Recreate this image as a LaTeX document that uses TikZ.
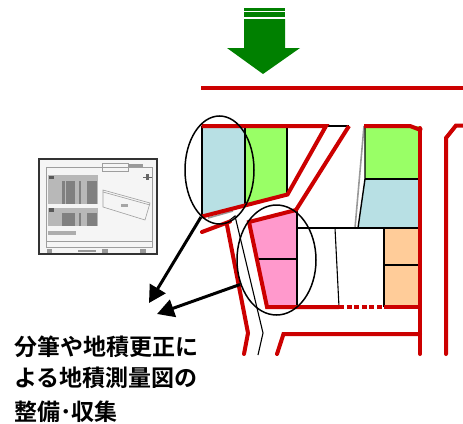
\documentclass[tikz,border=0pt]{standalone}
\usepackage{fontspec}
\newfontfamily\jpfont{Noto Sans CJK JP}[BoldFont={Noto Sans CJK JP Bold}]
\usetikzlibrary{arrows.meta,shapes.geometric}
\definecolor{rd}{RGB}{204,0,0}
\definecolor{bluef}{RGB}{184,224,228}
\definecolor{greenf}{RGB}{153,255,102}
\definecolor{pinkf}{RGB}{255,153,204}
\definecolor{orangef}{RGB}{255,204,153}
\definecolor{gr}{RGB}{0,128,0}
\tikzset{
 redline/.style={draw=rd,line width=4pt,line join=miter},
 blk/.style={draw=black,line width=1.4pt},
 thin blk/.style={draw=black,line width=1.1pt},
 zone/.style={draw=black,line width=1.5pt,ellipse,inner sep=0pt,fill=none},
 bigarrow/.style={draw=black,line width=3pt,-{Triangle[length=17pt,width=18pt]}},
 caption/.style={anchor=west,inner sep=0pt,font=\jpfont\fontsize{23}{26}\selectfont\bfseries},
 tbl/.style={fill=black!28,draw=none},
 stripe/.style={fill=black!50,draw=none},
 faint/.style={draw=black!38,line width=.6pt}
}
\begin{document}
\begin{tikzpicture}[x=1pt,y=-1pt]
\useasboundingbox (0,0) rectangle (463,423);
% green arrow
\fill[gr] (244,8) rectangle (285,11);
\fill[gr] (244,12) rectangle (285,17);
\fill[gr] (244,19) -- (285,19) -- (285,48) -- (300,48) -- (263,74) -- (227,48) -- (244,48) -- cycle;
% top road
\draw[redline] (201,87.7) -- (463,87.7);
% fills
\fill[bluef] (202,126) -- (245,126) -- (245,205) -- (202,216) -- cycle;
\fill[greenf] (245,126) -- (287,126) -- (287,194) -- (245,205) -- cycle;
\fill[greenf] (365,126) -- (420,126) -- (420,179) -- (365,179) -- cycle;
\fill[bluef] (365,179) -- (420,179) -- (420,228) -- (358,228) -- cycle;
\fill[pinkf] (248,222) -- (297,211) -- (297,307) -- (267,307) -- cycle;
\fill[orangef] (384,228) rectangle (420,307);
% gray lines
\draw[draw=black!40,line width=1.6pt] (364,126) -- (355,228);
\draw[draw=black!40,line width=1.6pt] (208,218) -- (233,211);
% black parcel lines
\draw[blk] (202,126) -- (202,216);
\draw[blk] (245,126) -- (245,205);
\draw[blk] (287,126) -- (287,194);
\draw[blk] (326,126) -- (349,126);
\draw[blk] (365,126) -- (365,179) -- (358,228);
\draw[blk] (365,179) -- (420,179);
\draw[blk] (297,211) -- (297,307);
\draw[blk] (258,259) -- (297,259);
\draw[blk] (297,228) -- (421,228);
\draw[thin blk] (335,228) -- (339,307);
\draw[blk] (384,228) -- (384,307);
\draw[blk] (384,265) -- (420,265);
\draw[blk] (421,307) -- (421,334);
\draw[thin blk] (226,223) -- (235,216) -- (263,333) -- (258,355);
% red roads
\draw[redline] (201.5,126) -- (326,126) -- (287.5,194.5) -- (202,216.5);
\draw[redline] (349,126) -- (296,210) -- (249,222) -- (267,307) -- (339,307);
\draw[draw=rd,line width=4pt,dash pattern=on 5pt off 2.6pt] (339,307.2) -- (384,307.2);
\draw[redline] (384,307) -- (421,307);
\draw[redline] (364,126) -- (410,126) -- (422,130.5);
\draw[redline,line cap=round] (420,128) -- (420,354);
\draw[redline,line cap=round] (446,354) -- (446,138) -- (456,125.5) -- (463,125.5);
\draw[redline,line cap=round] (277,354) -- (283.5,334) -- (420,334);
\draw[redline,line cap=round] (202,232) -- (230,221.5);
\draw[redline,line cap=round] (227,225) -- (248,333) -- (244,354);
% drawing thumbnail
\fill[black!4] (39,159) rectangle (157,254);
\draw[black!80,line width=1.4pt] (39,159) rectangle (157,254);
\draw[faint] (46,167) rectangle (152,247);
\draw[faint] (46,241) -- (152,241);
\draw[faint] (102,163) rectangle (128,171);
\fill[black!40] (128,164) rectangle (143,166.5);
\fill[tbl] (48,175) rectangle (98,204);
\fill[stripe] (62,181) rectangle (65,204);
\fill[stripe] (66,181) rectangle (75,204);
\fill[stripe] (79,181) rectangle (81,204);
\fill[stripe] (87,181) rectangle (97,204);
\fill[black!65] (49,176) rectangle (54,179);
\fill[tbl] (48,208) rectangle (98,226);
\fill[stripe] (62,213) rectangle (75,226);
\fill[stripe] (79,213) rectangle (81,226);
\fill[stripe] (87,213) rectangle (97,226);
\fill[black!65] (49,208) rectangle (54,212);
\fill[black!32] (48,231) rectangle (76,235);
\draw[faint] (103,190) -- (150,203) -- (145,220) -- (103,207) -- cycle;
\draw[faint] (103,192) -- (150,205);
\fill[black!35] (121,204) rectangle (128,207);
\fill[black!60] (146,174) rectangle (149,180);
\draw[black!60,line width=.6pt] (143,177) -- (152,177);
\fill[black!40] (78,250) rectangle (96,252);
\fill[black!40] (47,249) rectangle (52,253);
\fill[black!40] (102,249) rectangle (108,253);
\fill[black!40] (140,249) rectangle (146,253);
% ellipses
\node[zone,minimum width=69pt,minimum height=108pt] (e1) at (219.5,170) {};
\node[zone,minimum width=79pt,minimum height=110pt] (e2) at (276.5,260) {};
% arrows
\coordinate (s1) at (201,217);
\coordinate (s2) at (240,284.5);
\coordinate (t1) at (149,303);
\coordinate (t2) at (157,314);
\draw[bigarrow] (s1) -- (t1);
\draw[bigarrow] (s2) -- (t2);
% caption
\node[caption] (l1) at (14,347) {分筆や地積更正に};
\node[caption] (l2) at (14,378) {よる地積測量図の};
\node[caption] (l3) at (14,412) {整備･収集};
\end{tikzpicture}
\end{document}
